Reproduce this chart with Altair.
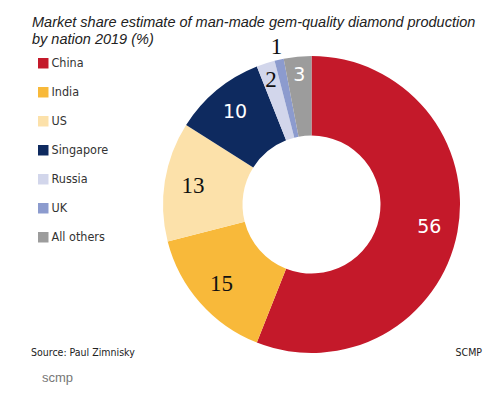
import altair as alt
import pandas as pd

nations = ["China", "India", "US", "Singapore", "Russia", "UK", "All others"]
shares = [56, 15, 13, 10, 2, 1, 3]
colors = ["#C4192A", "#F8B93A", "#FCE1AA", "#0E2A5F", "#D2D6EB", "#8C9BCE", "#9C9C9C"]

df = pd.DataFrame({"nation": nations, "share": shares, "order": list(range(len(nations)))})

W, H = 484, 380
CX, CY = 303.5, 196.5
COND = "DejaVu Sans Condensed, Liberation Sans"

theta_scale = alt.Scale(domain=[0, 100], range=[0, 6.283185307179586])

base = alt.Chart(df).transform_window(
    cum="sum(share)", sort=[alt.SortField("order")], frame=[None, 0]
).transform_calculate(
    start="datum.cum - datum.share", mid="datum.cum - datum.share / 2"
).encode(x=alt.value(CX), y=alt.value(CY))

arcs = base.mark_arc(innerRadius=69, outerRadius=148.5).encode(
    theta=alt.Theta("start:Q", scale=theta_scale),
    theta2="cum:Q",
    color=alt.Color(
        "nation:N",
        sort=nations,
        scale=alt.Scale(domain=nations, range=colors),
        legend=alt.Legend(
            title=None,
            orient="none",
            legendX=29,
            legendY=49,
            symbolType="square",
            symbolSize=110,
            symbolStrokeWidth=0,
            labelFontSize=12.5,
            labelFont=COND,
            labelColor="#333333",
            labelOffset=2,
            rowPadding=16,
        ),
    ),
)

def labels(names, radius, font, size, color):
    return base.transform_filter(
        alt.FieldOneOfPredicate(field="nation", oneOf=names)
    ).mark_text(radius=radius, font=font, fontSize=size, color=color).encode(
        theta=alt.Theta("mid:Q", scale=theta_scale), text="share:Q"
    )

white_main = labels(["China", "Singapore"], 120, "DejaVu Sans", 19, "white")
black_main = labels(["India", "US"], 120, "Liberation Serif", 23, "#111111")
white_small = labels(["All others"], 130, "DejaVu Sans", 19, "white")
black_small = labels(["Russia"], 131, "Liberation Serif", 23, "#111111")
outside = labels(["UK"], 161, "Liberation Serif", 23, "#111111")

title_text = "Market share estimate of man-made gem-quality diamond production\nby nation 2019  (%)"
title = alt.Chart(pd.DataFrame({"t": [title_text]})).mark_text(
    align="left", baseline="alphabetic", font="Liberation Sans", fontStyle="italic",
    fontSize=14.5, color="#222222", lineBreak="\n", lineHeight=17,
).encode(x=alt.value(24), y=alt.value(19), text="t:N")

src = alt.Chart(pd.DataFrame({"t": ["Source: Paul Zimnisky"]})).mark_text(
    align="left", baseline="alphabetic", font=COND, fontSize=10.5, color="#222222"
).encode(x=alt.value(23), y=alt.value(348), text="t:N")

brand = alt.Chart(pd.DataFrame({"t": ["SCMP"]})).mark_text(
    align="right", baseline="alphabetic", font=COND, fontSize=10.5, color="#222222"
).encode(x=alt.value(474), y=alt.value(348), text="t:N")

scmp = alt.Chart(pd.DataFrame({"t": ["scmp"]})).mark_text(
    align="left", baseline="alphabetic", font="Liberation Sans", fontSize=13, color="#777777"
).encode(x=alt.value(34), y=alt.value(374), text="t:N")

chart = alt.layer(
    arcs, white_main, black_main, white_small, black_small, outside, title, src, brand, scmp
).properties(
    width=W, height=H, autosize=alt.AutoSizeParams(type="none"), padding=0
).configure_view(stroke=None)

chart.save("out.html", embed_options={"renderer": "svg", "actions": False})
